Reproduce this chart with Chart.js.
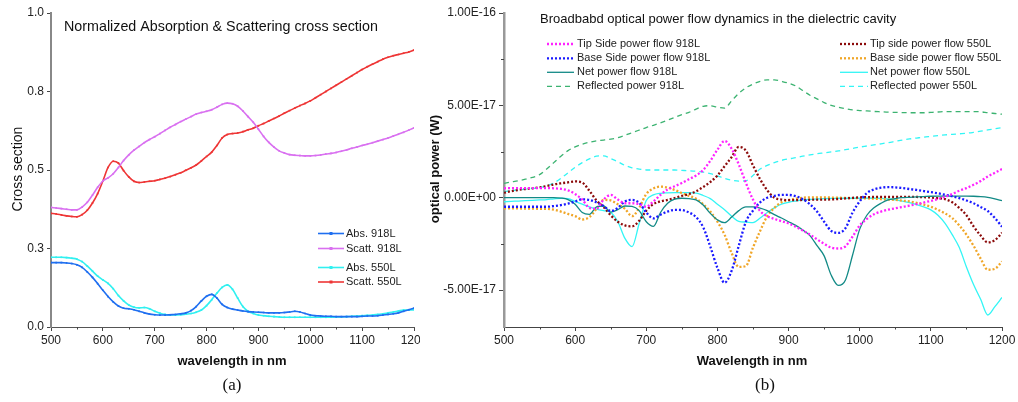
<!DOCTYPE html>
<html><head><meta charset="utf-8">
<script src="https://cdn.jsdelivr.net/npm/chart.js@4.4.1/dist/chart.umd.min.js"></script>
<style>
html,body{margin:0;padding:0;background:#fff;width:1018px;height:402px;overflow:hidden}
#ca{position:absolute;left:0;top:0}
#cb{position:absolute;left:420px;top:0;background:#fff}
</style></head><body>
<canvas id="ca" width="440" height="402"></canvas>
<canvas id="cb" width="598" height="402"></canvas>
<script>
// ---------- DATA ----------
const wavelength = [500,510,520,530,540,550,560,570,580,590,600,610,620,630,640,650,660,670,680,690,700,710,720,730,740,750,760,770,780,790,800,810,820,830,840,850,860,870,880,890,900,910,920,930,940,950,960,970,980,990,1000,1010,1020,1030,1040,1050,1060,1070,1080,1090,1100,1110,1120,1130,1140,1150,1160,1170,1180,1190,1200];

// (a) normalized cross sections
const absL918 = [.205,.205,.205,.204,.202,.198,.19,.175,.158,.138,
 .117,.097,.08,.067,.06,.058,.055,.05,.045,.041,
 .039,.038,.038,.039,.04,.042,.045,.052,.065,.083,
 .098,.104,.092,.072,.062,.057,.054,.051,.049,.048,
 .047,.046,.045,.045,.045,.046,.048,.05,.048,.043,
 .038,.036,.035,.034,.034,.033,.033,.033,.033,.033,
 .034,.035,.035,.036,.038,.04,.042,.045,.05,.055,
 .06];
const scattL918 = [.381,.379,.377,.375,.373,.373,.382,.397,.42,.445,
 .465,.475,.488,.508,.53,.548,.563,.575,.587,.597,
 .606,.616,.626,.636,.645,.654,.662,.67,.678,.683,
 .687,.692,.7,.709,.713,.711,.703,.688,.67,.652,
 .63,.607,.588,.573,.561,.554,.549,.547,.546,.545,
 .545,.546,.548,.551,.553,.556,.56,.564,.569,.573,
 .578,.582,.587,.592,.597,.602,.608,.614,.62,.627,
 .634];
const absL550 = [.222,.222,.222,.221,.219,.216,.208,.194,.178,.162,
 .15,.139,.122,.1,.083,.07,.063,.061,.062,.058,
 .05,.044,.04,.038,.038,.039,.041,.043,.047,.054,
 .068,.087,.108,.126,.134,.12,.092,.065,.05,.043,
 .038,.036,.034,.033,.032,.031,.031,.031,.031,.031,
 .031,.031,.031,.031,.031,.032,.032,.033,.034,.035,
 .036,.037,.038,.04,.042,.045,.048,.051,.054,.054,
 .055];
const scattL550 = [.362,.36,.357,.354,.352,.351,.358,.372,.395,.425,
 .465,.508,.528,.522,.498,.478,.464,.46,.462,.464,
 .466,.47,.474,.479,.485,.491,.499,.507,.516,.529,
 .543,.557,.578,.602,.613,.616,.618,.622,.628,.633,
 .641,.648,.656,.664,.672,.681,.689,.697,.705,.712,
 .72,.73,.74,.75,.76,.77,.78,.79,.8,.81,
 .82,.829,.837,.845,.853,.859,.864,.868,.872,.876,
 .882];

// (b) optical power, in units of 1E-17 W
const tip918 = [.51,.52,.52,.52,.52,.52,.52,.51,.48,.4,
 .2,-.1,-.55,-.6,-.1,.15,-.1,-.3,-.3,-.35,
 -.49,-.2,.15,.45,.62,.8,1.0,1.2,1.5,2.0,
 2.6,3.07,2.65,1.8,.8,-.1,-.72,-1.0,-1.15,-1.27,
 -1.39,-1.57,-1.78,-2.0,-2.25,-2.5,-2.7,-2.75,-2.63,-2.1,
 -1.5,-1.15,-.9,-.75,-.65,-.57,-.5,-.43,-.35,-.26,
 -.17,-.07,.05,.2,.38,.52,.7,.9,1.15,1.35,
 1.55];
const base918 = [-.49,-.49,-.49,-.49,-.49,-.49,-.49,-.45,-.4,-.32,
 -.2,-.09,-.12,-.25,-.45,-.72,-.55,-.2,-.12,-.28,
 -.8,-1.12,-.92,-.75,-.66,-.67,-.8,-1.05,-1.6,-2.65,
 -3.8,-4.6,-3.95,-2.6,-1.3,-.7,-.25,0,.1,.15,
 .15,.08,-.08,-.35,-.75,-1.3,-1.8,-1.9,-1.65,-.8,
 -.2,.25,.45,.54,.57,.56,.52,.47,.42,.36,
 .3,.24,.16,.08,-.02,-.15,-.3,-.5,-.72,-1.1,
 -1.57];
const net918 = [0,0,0,0,0,0,0,0,-.02,-.1,
 -.35,-.8,-.9,-.5,-.45,-.78,-.65,-.45,-.47,-.7,
 -1.3,-1.55,-.8,-.3,-.08,-.03,-.05,-.12,-.4,-.85,
 -1.2,-1.35,-1.05,-.7,-.5,-.5,-.56,-.7,-.92,-1.1,
 -1.3,-1.5,-1.75,-2.05,-2.6,-3.15,-4.2,-4.75,-4.45,-3.1,
 -1.7,-.95,-.55,-.3,-.12,-.05,0,.02,.04,.06,
 .08,.09,.09,.09,.09,.09,.08,.06,.02,-.06,
 -.16];
const refl918 = [.78,.85,.92,1.0,1.1,1.25,1.55,1.9,2.25,2.55,
 2.75,2.9,3.0,3.08,3.12,3.17,3.25,3.38,3.52,3.66,
 3.8,3.92,4.05,4.2,4.35,4.5,4.62,4.8,4.95,4.98,
 4.9,4.85,5.25,5.65,5.95,6.15,6.3,6.38,6.38,6.3,
 6.2,6.05,5.8,5.55,5.35,5.15,5.0,4.9,4.82,4.75,
 4.72,4.7,4.67,4.65,4.63,4.62,4.61,4.6,4.6,4.6,
 4.62,4.64,4.66,4.66,4.66,4.66,4.66,4.65,4.6,4.56,
 4.52];
const tip550 = [.27,.35,.42,.47,.51,.56,.63,.72,.78,.83,
 .88,.82,.38,-.15,-.5,-.95,-1.3,-1.5,-1.55,-1.25,
 -.7,-.35,-.2,-.12,-.02,.1,.2,.35,.58,.85,
 1.2,1.7,2.2,2.75,2.55,1.75,1.0,.4,0,-.1,
 -.13,-.13,-.12,-.11,-.1,-.1,-.09,-.07,-.04,-.01,
 .02,.03,.04,.05,.05,.05,.05,.05,.04,.03,
 .01,-.03,-.08,-.25,-.55,-.95,-1.55,-2.05,-2.42,-2.3,
 -1.9];
const base550 = [-.57,-.58,-.58,-.59,-.59,-.6,-.6,-.65,-.75,-.88,
 -1.0,-1.18,-1.05,-.6,-.12,-.15,-.35,-.6,-1.0,-.55,
 .2,.5,.6,.55,.42,.25,.1,-.05,-.35,-.75,
 -1.3,-2.0,-3.0,-3.75,-3.7,-2.7,-1.8,-1.0,-.55,-.25,
 -.12,-.05,0,.02,.02,.02,.01,0,-.01,-.02,
 -.03,-.04,-.05,-.08,-.1,-.12,-.16,-.2,-.28,-.38,
 -.49,-.65,-.85,-1.1,-1.5,-2.0,-2.6,-3.3,-3.9,-3.85,
 -3.45];
const net550 = [-.22,-.2,-.18,-.16,-.14,-.12,-.1,-.06,-.03,-.05,
 -.2,-.35,-.5,-.62,-.7,-.8,-1.3,-2.2,-2.65,-1.4,
 -.15,.15,.24,.26,.27,.27,.27,.25,.12,-.05,
 -.35,-.65,-1.0,-1.28,-1.32,-1.35,-1.1,-.8,-.55,-.35,
 -.25,-.18,-.12,-.09,-.07,-.05,-.04,-.03,-.03,-.03,
 -.03,-.03,-.03,-.04,-.07,-.12,-.18,-.27,-.38,-.5,
 -.66,-.95,-1.39,-2.0,-2.7,-3.75,-4.7,-5.5,-6.35,-5.9,
 -5.4];
const refl550 = [.33,.38,.42,.46,.5,.55,.65,.8,1.05,1.35,
 1.65,1.9,2.1,2.25,2.27,2.12,1.95,1.75,1.62,1.55,
 1.5,1.5,1.5,1.5,1.5,1.48,1.46,1.43,1.38,1.3,
 1.18,1.05,.95,.9,.92,1.2,1.55,1.75,1.9,2.02,
 2.1,2.17,2.25,2.32,2.38,2.43,2.48,2.53,2.6,2.67,
 2.74,2.8,2.86,2.92,2.98,3.05,3.12,3.18,3.23,3.28,
 3.32,3.36,3.4,3.43,3.46,3.49,3.54,3.6,3.67,3.73,
 3.79];

// ticks
const xTicks = [500,600,700,800,900,1000,1100,1200];
const xMinorTicks = [550,650,750,850,950,1050,1150];
const crossTicks = [0,0.25,0.5,0.75,1];
const powerTicks = [-5,0,5,10];
const powerTickLabels = ['-5.00E-17','0.00E+00','5.00E-17','1.00E-16'];
const powerMinorTicks = [-2.5,2.5,7.5];

// ---------- HELPERS ----------
const F = '"Liberation Sans", Arial, Helvetica, sans-serif';
const SERIF = '"Liberation Serif", "Times New Roman", serif';
function pts(xs, ys){ return xs.map((x,i)=>({x:x, y:ys[i]})); }
function txt(ctx, s, x, y, font, color, align, rot){
  ctx.save(); ctx.font = font; ctx.fillStyle = color || '#111';
  ctx.textAlign = align || 'left'; ctx.textBaseline = 'middle';
  ctx.translate(x, y); if (rot) ctx.rotate(rot); ctx.fillText(s, 0, 0); ctx.restore();
}
function minorTicks(chart, id, values, len){
  const s = chart.scales[id], ctx = chart.ctx;
  ctx.save(); ctx.strokeStyle = '#444'; ctx.lineWidth = 1; ctx.beginPath();
  values.forEach(v=>{
    if (s.isHorizontal()){ const x = Math.round(s.getPixelForValue(v))+0.5; ctx.moveTo(x, s.top); ctx.lineTo(x, s.top+len); }
    else { const y = Math.round(s.getPixelForValue(v))+0.5; ctx.moveTo(s.right-len, y); ctx.lineTo(s.right, y); }
  });
  ctx.stroke(); ctx.restore();
}
function legendItem(ctx, ds, x1, x2, y, tx, font){
  ctx.save();
  ctx.strokeStyle = ds.borderColor; ctx.lineWidth = ds.borderWidth;
  ctx.setLineDash(ds.borderDash || []); ctx.beginPath(); ctx.moveTo(x1, y); ctx.lineTo(x2, y); ctx.stroke();
  if (ds.pointRadius){ ctx.setLineDash([]); ctx.fillStyle = ds.borderColor; ctx.fillRect((x1+x2)/2-1.5, y-1.5, 3, 3); }
  ctx.fillStyle = '#222'; ctx.font = font; ctx.textBaseline = 'middle'; ctx.textAlign = 'left';
  ctx.fillText(ds.label, tx, y);
  ctx.restore();
}
function tickFont(){ return {family: F, size: 12}; }

// ---------- CHART (a) ----------
function lineA(label, ys, color){
  return {label, data: pts(wavelength, ys), borderColor: color, backgroundColor: color,
    borderWidth: 1.6, pointRadius: 1.2, pointStyle: 'rect', pointBorderWidth: 0,
    cubicInterpolationMode: 'monotone', fill: false};
}
new Chart(document.getElementById('ca'), {
  type: 'line',
  data: { datasets: [
    lineA('Abs. 918L', absL918, '#1f6ff0'),
    lineA('Scatt. 918L', scattL918, '#d970f0'),
    lineA('Abs. 550L', absL550, '#30f0f0'),
    lineA('Scatt. 550L', scattL550, '#ee3535')
  ]},
  options: {
    responsive: false, animation: false, events: [],
    layout: {padding: {left: 0, top: 13, right: 26, bottom: 0}},
    plugins: {legend: {display: false}, tooltip: {enabled: false}},
    scales: {
      x: {type: 'linear', min: 500, max: 1200,
        afterBuildTicks: s => { s.ticks = xTicks.map(v => ({value: v})); },
        afterFit: s => { s.height = 75; },
        ticks: {font: tickFont(), color: '#222', padding: 2, maxRotation: 0, autoSkip: false, callback: v => String(v)},
        grid: {drawOnChartArea: false, drawTicks: true, tickLength: 4, color: '#444'},
        border: {display: true, color: '#555', width: 1}},
      y: {type: 'linear', min: 0, max: 1,
        afterBuildTicks: s => { s.ticks = crossTicks.map(v => ({value: v})); },
        afterFit: s => { s.width = 51; },
        ticks: {font: tickFont(), color: '#222', padding: 3, callback: v => Number(v).toFixed(1)},
        grid: {drawOnChartArea: false, drawTicks: true, tickLength: 4, color: '#444'},
        border: {display: true, color: '#888', width: 2}}
    }
  },
  plugins: [{
    id: 'decorA',
    afterDraw(chart){
      const ctx = chart.ctx;
      minorTicks(chart, 'x', xMinorTicks, 2.5);
      txt(ctx, 'Normalized Absorption & Scattering cross section', 64, 27, '14.3px '+F, '#111');
      txt(ctx, 'Cross section', 18, 169, '14px '+F, '#111', 'center', -Math.PI/2);
      txt(ctx, 'wavelength in nm', 232, 361, 'bold 13px '+F, '#111', 'center');
      txt(ctx, '(a)', 232, 386, '17px '+SERIF, '#111', 'center');
      const ds = chart.data.datasets, lf = '11px '+F;
      const rows = [233.5, 248.5, 267.5, 282];
      ds.forEach((d, i) => legendItem(ctx, d, 318, 344, rows[i], 346, lf));
    }
  }]
});

// ---------- CHART (b) ----------
function lineB(label, ys, color, kind){
  const o = {label, data: pts(wavelength, ys), borderColor: color, backgroundColor: color,
    pointRadius: 0, cubicInterpolationMode: 'monotone', fill: false};
  if (kind === 'dot'){ o.borderWidth = 2.3; o.borderDash = [2, 2]; o.borderCapStyle = 'butt'; }
  else if (kind === 'dash'){ o.borderWidth = 1.3; o.borderDash = [5, 4]; }
  else { o.borderWidth = 1.3; }
  return o;
}
new Chart(document.getElementById('cb'), {
  type: 'line',
  data: { datasets: [
    lineB('Tip Side power flow 918L', tip918, '#ff22ff', 'dot'),
    lineB('Base Side power flow 918L', base918, '#1a1aff', 'dot'),
    lineB('Net power flow 918L', net918, '#128a86', 'solid'),
    lineB('Reflected power 918L', refl918, '#3cb371', 'dash'),
    lineB('Tip side power flow 550L', tip550, '#8b0a0a', 'dot'),
    lineB('Base side power flow 550L', base550, '#f0a628', 'dot'),
    lineB('Net power flow 550L', net550, '#33f5f5', 'solid'),
    lineB('Reflected power 550L', refl550, '#33f5f5', 'dash')
  ]},
  options: {
    responsive: false, animation: false, events: [],
    layout: {padding: {left: 0, top: 13, right: 16, bottom: 0}},
    plugins: {legend: {display: false}, tooltip: {enabled: false}},
    scales: {
      x: {type: 'linear', min: 500, max: 1200,
        afterBuildTicks: s => { s.ticks = xTicks.map(v => ({value: v})); },
        afterFit: s => { s.height = 75; },
        ticks: {font: tickFont(), color: '#222', padding: 2, maxRotation: 0, autoSkip: false, callback: v => String(v)},
        grid: {drawOnChartArea: false, drawTicks: true, tickLength: 4, color: '#444'},
        border: {display: true, color: '#444', width: 1}},
      y: {type: 'linear', min: -7, max: 10,
        afterBuildTicks: s => { s.ticks = powerTicks.map(v => ({value: v})); },
        afterFit: s => { s.width = 84; },
        ticks: {font: tickFont(), color: '#222', padding: 3,
          callback: v => powerTickLabels[powerTicks.indexOf(v)]},
        grid: {drawOnChartArea: false, drawTicks: true, tickLength: 5, color: '#444'},
        border: {display: true, color: '#999', width: 2.5}}
    }
  },
  plugins: [{
    id: 'decorB',
    afterDraw(chart){
      const ctx = chart.ctx;
      minorTicks(chart, 'x', xMinorTicks, 2.5);
      minorTicks(chart, 'y', powerMinorTicks, 3);
      txt(ctx, 'Broadbabd optical power flow dynamics in the dielectric cavity', 120, 19, '13px '+F, '#111');
      txt(ctx, 'optical power (W)', 15, 169, 'bold 13px '+F, '#111', 'center', -Math.PI/2);
      txt(ctx, 'Wavelength in nm', 332, 361, 'bold 13px '+F, '#111', 'center');
      txt(ctx, '(b)', 345, 386, '17px '+SERIF, '#111', 'center');
      const ds = chart.data.datasets, lf = '11px '+F;
      const rows = [44, 58.3, 72.3, 86.3];
      for (let i = 0; i < 4; i++) legendItem(ctx, ds[i], 127, 154, rows[i], 157, lf);
      for (let i = 0; i < 4; i++) legendItem(ctx, ds[i+4], 420, 448, rows[i], 450, lf);
    }
  }]
});
</script>
</body></html>
